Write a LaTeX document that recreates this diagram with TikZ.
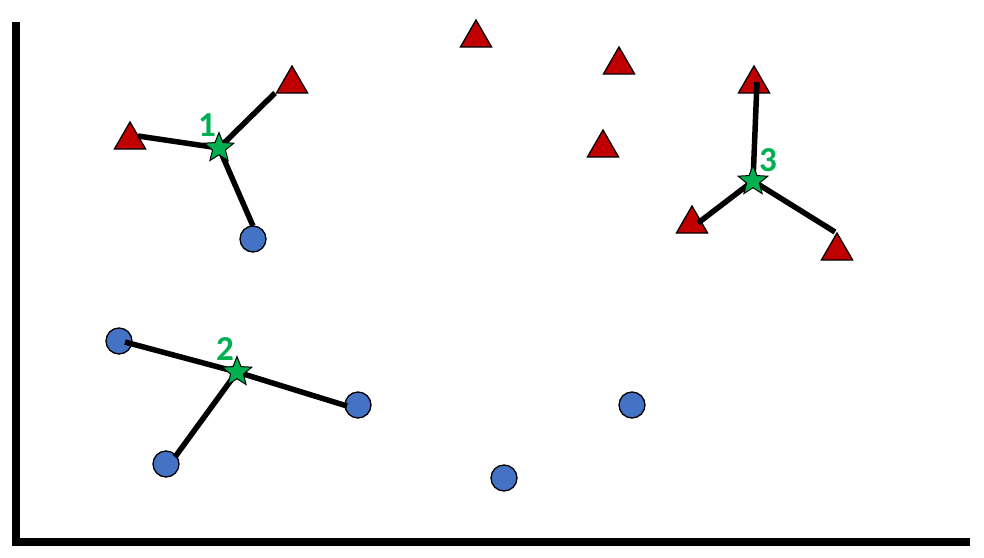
\documentclass[tikz,border=0pt]{standalone}
\usepackage{fontspec}
\setmainfont{Carlito}
\usetikzlibrary{shapes.geometric}
\definecolor{tri}{HTML}{C00000}
\definecolor{dot}{HTML}{4472C4}
\definecolor{grn}{HTML}{00B050}
\tikzset{
  tribox/.style={regular polygon, regular polygon sides=3, draw=black, line width=1.3pt, fill=tri, minimum size=36pt, inner sep=0pt},
  dotbox/.style={circle, draw=black, line width=1.3pt, fill=dot, minimum size=26pt, inner sep=0pt},
  starbox/.style={star, star points=5, star point ratio=2.3, draw=black, line width=1pt, fill=grn, minimum size=31pt, inner sep=0pt},
  lbl/.style={text=grn, font=\fontsize{35}{35}\selectfont\bfseries, inner sep=0pt},
  link/.style={line width=5.5pt},
  axis/.style={line width=8pt}
}
\begin{document}
\begin{tikzpicture}[x=1pt,y=-1pt]
\useasboundingbox[fill=white] (0,0) rectangle (984,557);
% axes
\coordinate (ytop) at (16,22);
\coordinate (xend) at (970,542);
\draw[axis] (ytop) -- (16,546);
\draw[axis] (12,542) -- (xend);
% triangles
\node[tribox] (t1) at (476,38) {};
\node[tribox] (t2) at (619,65) {};
\node[tribox] (t3) at (292,84) {};
\node[tribox] (t4) at (130,140) {};
\node[tribox] (t5) at (603,148) {};
\node[tribox] (t6) at (754,84) {};
\node[tribox] (t7) at (692,224) {};
\node[tribox] (t8) at (837,251) {};
% circles
\node[dotbox] (c1) at (253,239) {};
\node[dotbox] (c2) at (119,341) {};
\node[dotbox] (c3) at (358,405) {};
\node[dotbox] (c4) at (166,464) {};
\node[dotbox] (c5) at (504,478) {};
\node[dotbox] (c6) at (632,405) {};
% line end coordinates
\coordinate (e1) at (138,136);
\coordinate (e2) at (275,93);
\coordinate (e3) at (253,226);
\coordinate (e4) at (125,342);
\coordinate (e5) at (347,406);
\coordinate (e6) at (175,457);
\coordinate (e7) at (757,82);
\coordinate (e8) at (698,223);
\coordinate (e9) at (835,232);
% star positions
\coordinate (p1) at (219,148);
\coordinate (p2) at (237,372);
\coordinate (p3) at (753,181);
% connectors
\draw[link] (p1) -- (e1);
\draw[link] (p1) -- (e2);
\draw[link] (p1) -- (e3);
\draw[link] (p2) -- (e4);
\draw[link] (p2) -- (e5);
\draw[link] (p2) -- (e6);
\draw[link] (p3) -- (e7);
\draw[link] (p3) -- (e8);
\draw[link] (p3) -- (e9);
% stars
\node[starbox] (s1) at (p1) {};
\node[starbox] (s2) at (p2) {};
\node[starbox] (s3) at (p3) {};
% labels
\node[lbl] (l1) at (207,125) {1};
\node[lbl] (l2) at (225,349) {2};
\node[lbl] (l3) at (768,160) {3};
\end{tikzpicture}
\end{document}
